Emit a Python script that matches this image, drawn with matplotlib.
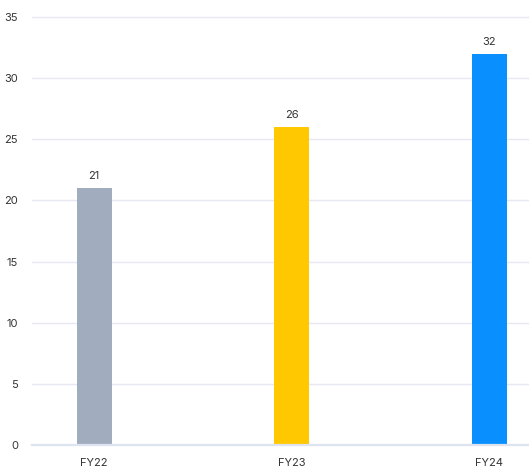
import matplotlib
matplotlib.use("Agg")
import matplotlib.pyplot as plt

years = ["FY22", "FY23", "FY24"]
values = [21, 26, 32]
colors = ["#a2acbf", "#ffc800", "#0a8fff"]
yticks = [0, 5, 10, 15, 20, 25, 30, 35]

plt.rcParams['font.family'] = ['Inter', 'DejaVu Sans']

fig = plt.figure(figsize=(5.29, 4.73), dpi=100)
ax = fig.add_axes([32 / 529, 1 - 445 / 473, 1 - 32 / 529, (445 - 17) / 473])

x = list(range(len(years)))
bars = ax.bar(x, values, width=0.178, color=colors, zorder=3)
for b, v in zip(bars, values):
    ax.annotate(str(v), (b.get_x() + b.get_width() / 2, v), xytext=(0, 5),
                textcoords="offset points", ha="center", va="bottom",
                fontsize=8, color="#333333")

ax.set_ylim(0, 35)
ax.set_xlim(-0.315, 2.2)
ax.set_yticks(yticks)
ax.set_xticks(x)
ax.set_xticklabels(years)
for t in yticks[1:]:
    ax.axhline(t, color="#e6e9f3", linewidth=1, zorder=1, clip_on=False)
ax.axhline(0, color="#dde3ef", linewidth=1.6, zorder=4, clip_on=False)

for s in ax.spines.values():
    s.set_visible(False)
ax.tick_params(axis="both", length=0, labelsize=8, colors="#333333")
ax.tick_params(axis="y", pad=10)
ax.tick_params(axis="x", pad=9)

fig.savefig("out.png", dpi=100)
